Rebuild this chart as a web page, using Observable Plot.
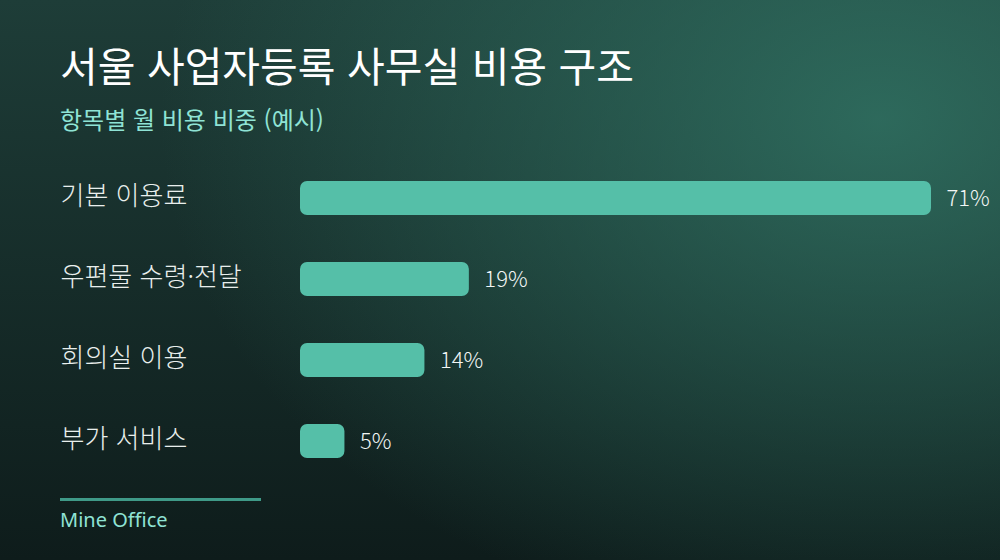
<!DOCTYPE html>
<html lang="ko">
<head>
<meta charset="utf-8">
<script src="https://cdn.jsdelivr.net/npm/d3@7"></script>
<script src="https://cdn.jsdelivr.net/npm/@observablehq/plot@0.6"></script>
<style>
  html, body { margin: 0; padding: 0; }
  body { width: 1000px; height: 560px; overflow: hidden; font-family: "Noto Sans CJK KR", "Noto Sans", sans-serif; }
  #page {
    position: relative; width: 1000px; height: 560px;
    background:
      radial-gradient(ellipse 720px 520px at 880px 120px, rgba(50,118,102,0.8) 0%, rgba(50,118,102,0) 100%),
      linear-gradient(180deg, #1e3d38 0%, #0e1c1b 100%);
  }
  #title { position: absolute; left: 60px; top: 44px; margin: 0; font-size: 41px; line-height: 1; font-weight: 400; color: #ffffff; white-space: nowrap; }
  #subtitle { position: absolute; left: 60px; top: 107px; margin: 0; font-size: 24px; line-height: 1; font-weight: 400; color: #8fe3d5; white-space: nowrap; }
  #chart { position: absolute; left: 0; top: 149px; width: 1000px; }
  #rule { position: absolute; left: 60px; top: 498px; width: 201px; height: 3px; background: #3f9a88; }
  #source { position: absolute; left: 60px; top: 510px; margin: 0; font-family: "Noto Sans", sans-serif; font-size: 20px; line-height: 1; color: #8fe3d5; white-space: nowrap; }
</style>
</head>
<body>
<div id="page">
  <h1 id="title">서울 사업자등록 사무실 비용 구조</h1>
  <p id="subtitle">항목별 월 비용 비중 (예시)</p>
  <div id="chart"></div>
  <div id="rule"></div>
  <p id="source">Mine Office</p>
</div>
<script>
const categories = ["기본 이용료", "우편물 수령·전달", "회의실 이용", "부가 서비스"];
const shares = [71, 19, 14, 5];
const valueLabels = ["71%", "19%", "14%", "5%"];

const data = categories.map((c, i) => ({category: c, share: shares[i], label: valueLabels[i]}));

const chart = Plot.plot({
  width: 1000,
  height: 330,
  marginTop: 30,
  marginBottom: 20,
  marginLeft: 300,
  marginRight: 69,
  style: {background: "transparent", fontFamily: "\"Noto Sans CJK KR\", sans-serif", overflow: "visible"},
  x: {domain: [0, d3.max(shares)], axis: null},
  y: {domain: categories, paddingInner: 0.585, paddingOuter: 0, label: null},
  marks: [
    Plot.axisY({tickSize: 0, tickPadding: 240, textAnchor: "start", fontSize: 26, fontWeight: 300, fill: "#e9efed", label: null, dy: -2}),
    Plot.barX(data, {x: "share", y: "category", fill: "#55bfa8", rx: 7}),
    Plot.text(data, {x: "share", y: "category", text: "label", dx: 15, textAnchor: "start", fontSize: 22, fontWeight: 300, fill: "#f2f6f5"})
  ]
});
document.getElementById("chart").appendChild(chart);
</script>
</body>
</html>
